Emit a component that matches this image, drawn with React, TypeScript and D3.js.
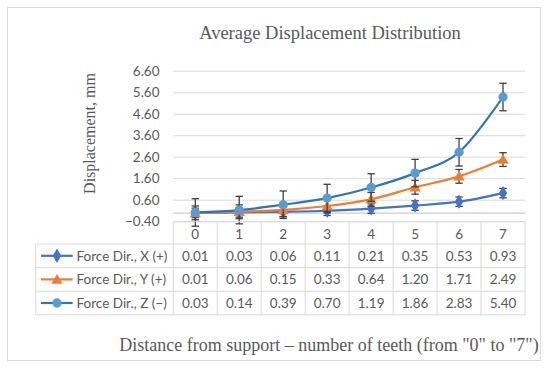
import React from "react";
import * as d3 from "d3";

const categories = ["0", "1", "2", "3", "4", "5", "6", "7"];
const seriesNames = ["Force Dir., X (+)", "Force Dir., Y (+)", "Force Dir., Z (\u2212)"];
const xValues = [0.01, 0.03, 0.06, 0.11, 0.21, 0.35, 0.53, 0.93];
const yValues = [0.01, 0.06, 0.15, 0.33, 0.64, 1.2, 1.71, 2.49];
const zValues = [0.03, 0.14, 0.39, 0.7, 1.19, 1.86, 2.83, 5.4];
const errorSizes = [0.22, 0.32, 0.64];
const yTicks = [-0.4, 0.6, 1.6, 2.6, 3.6, 4.6, 5.6, 6.6];

const W = 550;
const H = 369;
const left = 173.3;
const right = 525;
const top = 71.2;
const bottom = 221.7;
const rowH = 23.6;
const headerBottom = 244;
const tableLeft = 35.7;

const grey = "#595959";
const gridColor = "#d9d9d9";
const sans = "Lato, 'Open Sans', sans-serif";
const serif = "'Liberation Serif', 'DejaVu Serif', serif";

const styles = [
  { line: "#4472C4", fill: "#4472C4", marker: "diamond" },
  { line: "#ED7D31", fill: "#ED7D31", marker: "triangle" },
  { line: "#2E75B6", fill: "#5B9BD5", marker: "circle" },
];
const allValues = [xValues, yValues, zValues];

const x = d3.scaleBand().domain(categories).range([left, right]).padding(0);
const y = d3.scaleLinear().domain([-0.4, 6.6]).range([bottom, top]);
const cx = (c: string) => (x(c) as number) + x.bandwidth() / 2;

const symbolFor = (m: string) =>
  m === "diamond"
    ? d3.symbol(d3.symbolDiamond, 60)()
    : m === "triangle"
    ? d3.symbol(d3.symbolTriangle, 55)()
    : d3.symbol(d3.symbolCircle, 68)();

const lineGen = d3
  .line<number>()
  .x((_, i) => cx(categories[i]))
  .y((d) => y(d))
  .curve(d3.curveCardinal.tension(0));

export default function App() {
  return (
    <svg
      width={W}
      height={H}
      style={{ position: "absolute", left: 0, top: 0, background: "#fff" }}
    >
      <rect x={7.5} y={7.5} width={533} height={353} fill="#fff" stroke={gridColor} />
      <text x={330} y={39} textAnchor="middle" fontFamily={serif} fontSize={18.5} fill={grey}>
        Average Displacement Distribution
      </text>

      {/* gridlines */}
      {yTicks.map((t) => (
        <g key={t}>
          <line x1={left} x2={right} y1={y(t)} y2={y(t)} stroke={gridColor} />
          <text
            x={159.5}
            y={y(t)}
            dy="0.35em"
            textAnchor="end"
            fontFamily={sans}
            fontSize={13.5}
            fill={grey}
          >
            {t.toFixed(2).replace("-", "\u2212")}
          </text>
        </g>
      ))}
      <line x1={left} x2={right} y1={y(0)} y2={y(0)} stroke="#bfbfbf" />

      <text
        transform={`translate(89,133.5) rotate(-90)`}
        textAnchor="middle"
        dy="0.35em"
        fontFamily={serif}
        fontSize={16}
        fill={grey}
      >
        Displacement, mm
      </text>

      {/* series */}
      {allValues.map((vals, s) => (
        <g key={s}>
          <path d={lineGen(vals) || ""} fill="none" stroke={styles[s].line} strokeWidth={2.2} />
          {vals.map((v, i) => {
            const px = cx(categories[i]);
            const e = errorSizes[s];
            return (
              <g key={i} stroke="#404040" strokeWidth={1.3}>
                <line x1={px} x2={px} y1={y(v + e)} y2={y(v - e)} />
                <line x1={px - 3.7} x2={px + 3.7} y1={y(v + e)} y2={y(v + e)} />
                <line x1={px - 3.7} x2={px + 3.7} y1={y(v - e)} y2={y(v - e)} />
              </g>
            );
          })}
          {vals.map((v, i) => (
            <path
              key={i}
              d={symbolFor(styles[s].marker) || ""}
              transform={`translate(${cx(categories[i])},${y(v) + (styles[s].marker === "triangle" ? 1 : 0)})`}
              fill={styles[s].fill}
            />
          ))}
        </g>
      ))}

      {/* data table */}
      <g stroke={gridColor} fill="none">
        <line x1={left} x2={right} y1={bottom} y2={bottom} />
        {[0, 1, 2, 3].map((r) => (
          <line
            key={r}
            x1={tableLeft}
            x2={right}
            y1={headerBottom + r * rowH}
            y2={headerBottom + r * rowH}
          />
        ))}
        <line x1={tableLeft} x2={tableLeft} y1={headerBottom} y2={headerBottom + 3 * rowH} />
        {categories.map((c) => (
          <line
            key={c}
            x1={x(c) as number}
            x2={x(c) as number}
            y1={bottom}
            y2={headerBottom + 3 * rowH}
          />
        ))}
        <line x1={right} x2={right} y1={bottom} y2={headerBottom + 3 * rowH} />
      </g>
      {categories.map((c) => (
        <text
          key={c}
          x={cx(c)}
          y={(bottom + headerBottom) / 2 + 1}
          dy="0.35em"
          textAnchor="middle"
          fontFamily={sans}
          fontSize={13.5}
          fill={grey}
        >
          {c}
        </text>
      ))}
      {allValues.map((vals, s) => {
        const ry = headerBottom + s * rowH + rowH / 2;
        return (
          <g key={s}>
            <line x1={41} x2={72.7} y1={ry} y2={ry} stroke={styles[s].line} strokeWidth={2.2} />
            <path
              d={symbolFor(styles[s].marker) || ""}
              transform={`translate(57,${ry + (styles[s].marker === "triangle" ? 1 : 0)})`}
              fill={styles[s].fill}
            />
            <text x={76.5} y={ry} dy="0.35em" fontFamily={sans} fontSize={13.5} fill={grey}>
              {seriesNames[s]}
            </text>
            {vals.map((v, i) => (
              <text
                key={i}
                x={cx(categories[i])}
                y={ry}
                dy="0.35em"
                textAnchor="middle"
                fontFamily={sans}
                fontSize={13.5}
                fill={grey}
              >
                {v.toFixed(2)}
              </text>
            ))}
          </g>
        );
      })}

      <text x={329} y={345} dy="0.35em" textAnchor="middle" fontFamily={serif} fontSize={18} fill={grey}>
        Distance from support – number of teeth (from "0" to "7")
      </text>
    </svg>
  );
}
